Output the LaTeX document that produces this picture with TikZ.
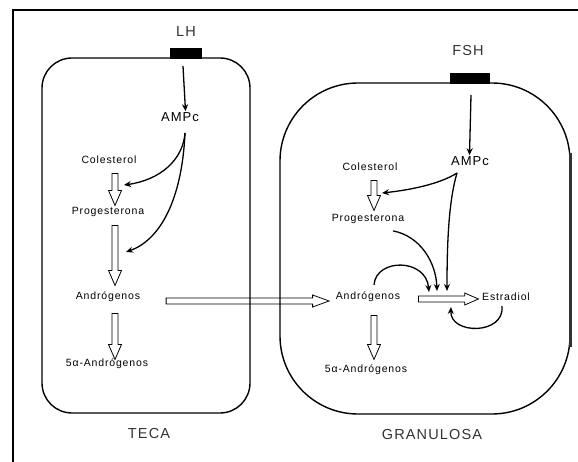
\documentclass[tikz,border=0pt]{standalone}
\usepackage{fontspec}
\setmainfont{Liberation Sans}
\newfontfamily\lblfont[LetterSpace=8]{Liberation Sans}
\usetikzlibrary{arrows.meta,calc,shapes.arrows}

\tikzset{
  cell/.style={line width=1.4pt, rounded corners=#1},
  small/.style={font=\lblfont\fontsize{10.5}{12}\selectfont, inner sep=1pt},
  medium/.style={font=\lblfont\fontsize{13}{15}\selectfont, inner sep=1pt},
  large/.style={font=\lblfont\fontsize{14.5}{17}\selectfont, inner sep=1pt, text=black!80},
  receptor/.style={fill=black, draw=black, inner sep=0pt, minimum height=10pt, anchor=south},
  signal/.style={line width=1.3pt, -{Stealth[length=7pt,width=6pt]}},
  harrow/.style={single arrow, draw, line width=0.8pt, inner xsep=0pt, inner ysep=2.6pt,
    single arrow head extend=3.5pt, single arrow tip angle=47},
}

% hollow block arrow from #2 to #3
\newcommand\hollowarrow[3][]{%
  \path (#2) coordinate (ha-s) (#3) coordinate (ha-e);
  \path let \p1=($(ha-e)-(ha-s)$) in ($(ha-s)!0.5!(ha-e)$)
    node[harrow, #1, minimum height={veclen(\x1,\y1)}, rotate={atan2(\y1,\x1)}] {};}

\begin{document}
\begin{tikzpicture}[x=1pt, y=-1pt]
    \useasboundingbox (0,0) rectangle (578,462);
    \draw[line width=1.3pt] (13,462) -- (13,10) -- (578,10);

    % teca
    \draw[cell=30] (42,58) rectangle (250,413);
    \node[receptor, minimum width=31pt] (recLH) at (185.5,58) {};
    \node[large] (lh) at (186,32) {LH};
    \node[medium] (ampcT) at (180,117) {AMPc};
    \node[small] (colT) at (109,160) {Colesterol};
    \node[small] (progT) at (108,212) {Progesterona};
    \node[small] (andT) at (108,297) {Andrógenos};
    \node[small] (alfaT) at (107,364) {5α-Andrógenos};
    \node[large] (teca) at (149,434) {TECA};
    \coordinate (srcT) at (185,133);
    \coordinate (tgtT1) at (124,185);
    \coordinate (tgtT2) at (126,252);

    \draw[signal] ([xshift=-2.5pt,yshift=-8pt]recLH.south) -- (ampcT.north -| recLH.south);
    \draw[signal] (srcT) .. controls (183,160) and (160,180) .. (tgtT1);
    \draw[signal] (srcT) .. controls (182,200) and (160,240) .. (tgtT2);
    \hollowarrow{$(colT)+(6,10)$}{$(progT)+(7,-10)$}
    \hollowarrow{$(progT)+(7,10)$}{$(andT)+(7,-15)$}
    \hollowarrow{$(andT)+(7,13)$}{$(alfaT)+(8,-8)$}

    % granulosa
    \draw[cell=78] (280,83) rectangle (570,414);
    \draw[line width=3pt, black!80] (570,153) -- (570,347);
    \node[receptor, minimum width=39pt] (recFSH) at (469.5,83) {};
    \node[large] (fsh) at (468,51) {FSH};
    \node[medium] (ampcG) at (470,161) {AMPc};
    \node[small] (colG) at (370,167) {Colesterol};
    \node[small] (progG) at (368,219) {Progesterona};
    \node[small] (andG) at (368,297) {Andrógenos};
    \node[small] (estr) at (506,297) {Estradiol};
    \node[small] (alfaG) at (366,370) {5α-Andrógenos};
    \node[large] (gran) at (432,435) {GRANULOSA};
    \coordinate (srcG) at (457,173);
    \coordinate (tgtG1) at (382,193);
    \coordinate (tgtG2) at (447,291);
    \coordinate (tgtG3) at (437,291);
    \coordinate (tgtG4) at (429,292);
    \coordinate (tgtG5) at (451,307);

    \draw[signal] ([xshift=1.5pt,yshift=-12pt]recFSH.south) -- (ampcG.north -| recFSH.south);
    \draw[signal] (srcG) .. controls (440,184) and (410,190) .. (tgtG1);
    \draw[signal] (srcG) .. controls (449,200) and (447,240) .. (tgtG2);
    \draw[signal] ([xshift=25pt,yshift=-6pt]progG.south) .. controls (420,236) and (436,262) .. (tgtG3);
    \draw[signal] ([xshift=6pt,yshift=6pt]andG.north) .. controls (376,258) and (426,258) .. (tgtG4);
    \draw[signal] ([xshift=-4pt,yshift=-4pt]estr.south) .. controls (505,335) and (450,335) .. (tgtG5);
    \hollowarrow{$(colG)+(4,10)$}{$(progG)+(6,-12)$}
    \hollowarrow[single arrow head extend=3pt]{$(andG)+(47,2)$}{$(estr)+(-31,2)$}
    \hollowarrow{$(andG)+(6,15)$}{$(alfaG)+(8,-14)$}

    % teca -> granulosa
    \hollowarrow[single arrow head extend=3pt, single arrow tip angle=40]{$(andT)+(54,4)$}{$(andG)+(-43,4)$}
\end{tikzpicture}
\end{document}
